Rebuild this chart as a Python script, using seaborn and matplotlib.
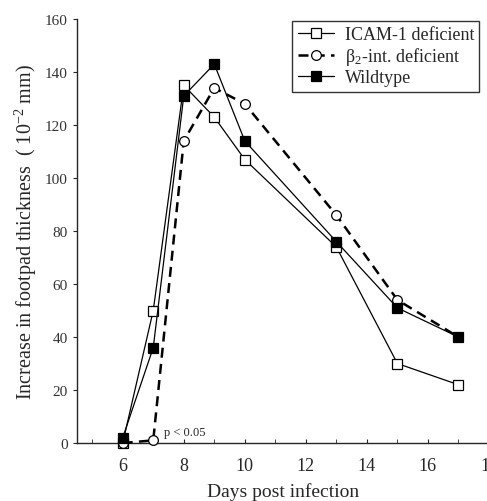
import pandas as pd
import seaborn as sns
import matplotlib.pyplot as plt

days = [6, 7, 8, 9, 10, 13, 15, 17]
icam = [0, 50, 135, 123, 107, 74, 30, 22]
beta2 = [0, 1, 114, 134, 128, 86, 54, 40]
wildtype = [2, 36, 131, 143, 114, 76, 51, 40]

labels = ["ICAM-1 deficient", "β$_2$-int. deficient", "Wildtype"]


def crea_dataframe():
    return pd.DataFrame({
        "giorno": days * 3,
        "valore": icam + beta2 + wildtype,
        "gruppo": [labels[0]] * 8 + [labels[1]] * 8 + [labels[2]] * 8,
    })


def grafico(df):
    sns.set_style("ticks")
    plt.rcParams["font.family"] = ["Liberation Serif", "DejaVu Serif"]
    plt.rcParams["mathtext.fontset"] = "custom"
    plt.rcParams["mathtext.rm"] = "Liberation Serif"
    plt.rcParams["mathtext.it"] = "Liberation Serif"

    fig = plt.figure(figsize=(4.87, 5.02), dpi=100)
    ax = fig.add_axes([0.158, 0.1155, 0.846, 0.8445])

    stili = [
        dict(ls="-", lw=0.9, marker="s", mfc="white", ms=7),
        dict(ls=(0, (4, 2.5)), lw=1.8, marker="o", mfc="white", ms=7),
        dict(ls="-", lw=0.9, marker="s", mfc="black", ms=7),
    ]
    for lab, st in zip(labels, stili):
        sub = df[df["gruppo"] == lab]
        sns.lineplot(data=sub, x="giorno", y="valore", ax=ax, color="black",
                     linestyle=st["ls"], linewidth=st["lw"], marker=st["marker"],
                     markerfacecolor=st["mfc"], markeredgecolor="black",
                     markeredgewidth=0.9, markersize=st["ms"], label=lab,
                     clip_on=False, zorder=3)

    ax.text(7.35, 3, "p < 0.05", fontsize=9)

    ax.set_xlim(4.5, 18)
    ax.set_ylim(0, 160)
    ax.set_xticks([6, 8, 10, 12, 14, 16, 18])
    ax.set_xticks(range(5, 19), minor=True)
    ax.set_yticks(range(0, 161, 20))
    ax.tick_params(axis="x", direction="in", length=3, labelsize=13, pad=10)
    ax.tick_params(axis="x", which="minor", direction="in", length=3)
    ax.tick_params(axis="y", direction="out", length=3, labelsize=11,
                   labelcolor="#333333")
    sns.despine(ax=ax)
    ax.spines["left"].set_linewidth(1.0)
    ax.spines["bottom"].set_linewidth(1.0)

    ax.set_xlabel("Days post infection", fontsize=14, labelpad=6)
    ax.set_ylabel(r"Increase in footpad thickness  ( 10$^{-2}$ mm)", fontsize=14.5)

    leg = ax.legend(loc="upper right", bbox_to_anchor=(1.003, 0.975),
                    bbox_transform=fig.transFigure, frameon=True, fancybox=False,
                    edgecolor="black", fontsize=13, handlelength=2.0,
                    borderpad=0.3, labelspacing=0.12, handletextpad=0.6)
    leg.get_frame().set_linewidth(1.0)

    fig.savefig("out.png", dpi=100)


df = crea_dataframe()
grafico(df)
